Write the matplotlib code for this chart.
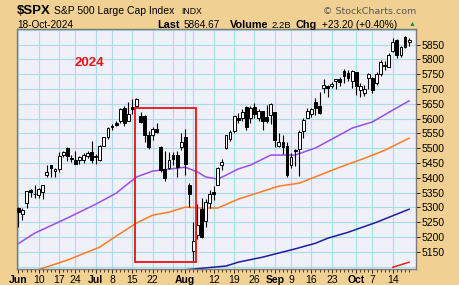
import matplotlib
matplotlib.use("Agg")
import matplotlib.pyplot as plt
from matplotlib.patches import Rectangle
import numpy as np
import pandas as pd

# trading days shown (NYSE holidays removed)
days = pd.bdate_range("2024-06-03", "2024-10-18")
days = days.drop(pd.to_datetime(["2024-06-19", "2024-07-04", "2024-09-02"]))

opens = [5297.15, 5278.24, 5314.48, 5357.80, 5343.81,
         5341.22, 5353.00, 5409.13, 5441.93, 5424.08,
         5431.11, 5476.15, 5499.99, 5466.77,
         5459.58, 5460.73, 5460.71, 5473.59, 5488.48,
         5471.08, 5461.84, 5507.44, 5537.91,
         5572.75, 5584.24, 5591.26, 5635.21, 5590.76,
         5638.16, 5644.09, 5610.07, 5608.56, 5543.37,
         5544.54, 5565.30, 5505.84, 5428.70, 5433.67,
         5476.55, 5478.73, 5505.59, 5537.84, 5376.63,
         5151.14, 5206.42, 5293.13, 5252.57, 5314.76,
         5351.88, 5376.98, 5442.72, 5501.13, 5530.50,
         5557.23, 5602.88, 5603.09, 5637.77, 5602.49,
         5639.66, 5602.89, 5624.51, 5607.30, 5612.74,
         5623.89, 5506.68, 5520.08, 5507.33,
         5442.07, 5490.51, 5496.42, 5557.48, 5603.34,
         5615.21, 5655.51, 5641.68, 5702.63, 5709.64,
         5711.90, 5727.69, 5733.65, 5762.22, 5755.36,
         5726.52, 5757.73, 5698.19, 5687.00, 5737.86,
         5737.80, 5719.14, 5751.80, 5778.36, 5775.09,
         5829.81, 5866.74, 5816.58, 5875.62, 5859.43]
highs = [5302.11, 5298.80, 5354.16, 5362.35, 5375.08,
         5365.79, 5375.95, 5441.93, 5441.93, 5432.39,
         5488.50, 5490.38, 5505.53, 5478.31,
         5490.66, 5472.88, 5483.14, 5490.81, 5523.64,
         5479.55, 5509.69, 5539.27, 5570.33,
         5583.11, 5590.75, 5635.39, 5642.45, 5655.56,
         5666.94, 5669.67, 5622.49, 5614.05, 5557.50,
         5570.36, 5585.34, 5508.04, 5491.59, 5488.32,
         5487.74, 5489.46, 5551.51, 5566.16, 5383.89,
         5250.89, 5312.34, 5330.64, 5328.03, 5358.77,
         5371.20, 5436.50, 5463.22, 5546.23, 5561.98,
         5608.30, 5620.51, 5632.68, 5643.22, 5641.82,
         5651.62, 5631.18, 5627.03, 5646.95, 5651.37,
         5623.89, 5552.99, 5546.30, 5522.47,
         5484.20, 5497.91, 5560.41, 5600.71, 5636.27,
         5636.05, 5670.81, 5689.75, 5733.57, 5715.14,
         5725.36, 5735.32, 5741.03, 5767.37, 5763.78,
         5765.14, 5757.73, 5719.14, 5714.54, 5753.15,
         5739.34, 5757.60, 5796.80, 5795.03, 5822.13,
         5871.41, 5870.36, 5846.52, 5878.08, 5872.17]
lows = [5234.32, 5257.63, 5297.64, 5335.36, 5331.33,
        5331.52, 5327.25, 5402.51, 5403.75, 5403.75,
        5420.40, 5471.32, 5455.56, 5452.03,
        5447.59, 5446.56, 5451.87, 5467.54, 5451.12,
        5446.53, 5458.43, 5507.42, 5531.63,
        5562.51, 5574.57, 5586.44, 5576.53, 5590.44,
        5614.75, 5639.02, 5584.81, 5522.81, 5497.04,
        5529.04, 5550.90, 5419.98, 5390.95, 5430.70,
        5444.44, 5401.53, 5493.75, 5410.42, 5302.03,
        5119.26, 5193.56, 5195.54, 5233.85, 5298.51,
        5324.37, 5376.98, 5425.46, 5497.89, 5525.17,
        5550.74, 5585.50, 5591.57, 5560.95, 5585.16,
        5602.34, 5593.48, 5560.95, 5583.71, 5581.79,
        5504.10, 5503.66, 5480.89, 5402.62,
        5434.49, 5441.72, 5406.96, 5535.50, 5601.65,
        5604.53, 5614.05, 5615.08, 5686.42, 5674.49,
        5704.94, 5698.99, 5712.06, 5721.01, 5727.34,
        5703.53, 5681.28, 5674.00, 5675.96, 5699.19,
        5686.85, 5714.56, 5745.02, 5764.76, 5775.09,
        5824.83, 5804.48, 5808.34, 5840.25, 5846.11]
closes = [5283.40, 5291.34, 5354.03, 5352.96, 5346.99,
          5360.79, 5375.32, 5421.03, 5433.74, 5431.60,
          5473.23, 5487.03, 5473.17, 5464.62,
          5447.87, 5469.30, 5477.90, 5482.87, 5460.48,
          5475.09, 5509.01, 5537.02, 5567.19,
          5572.85, 5576.98, 5633.91, 5584.54, 5615.35,
          5631.22, 5667.20, 5588.27, 5544.59, 5505.00,
          5564.41, 5555.74, 5427.13, 5399.22, 5459.10,
          5463.54, 5436.44, 5522.30, 5446.68, 5346.56,
          5186.33, 5240.03, 5199.50, 5319.31, 5344.16,
          5344.39, 5434.43, 5455.21, 5543.22, 5554.25,
          5608.25, 5597.12, 5620.85, 5570.64, 5634.61,
          5616.84, 5625.80, 5592.18, 5591.96, 5648.40,
          5528.93, 5520.07, 5503.41, 5408.42,
          5471.05, 5495.52, 5554.13, 5595.76, 5626.02,
          5633.09, 5634.58, 5618.26, 5713.64, 5702.55,
          5718.57, 5732.93, 5722.26, 5745.37, 5738.17,
          5762.48, 5708.75, 5709.54, 5699.94, 5751.07,
          5695.94, 5751.13, 5792.04, 5780.05, 5815.03,
          5859.85, 5815.26, 5842.47, 5841.47, 5864.67]

# moving averages (date, value)
ma50_dates = ["2024-06-03", "2024-06-07", "2024-06-20", "2024-07-01", "2024-07-09",
              "2024-07-16", "2024-07-22", "2024-08-01", "2024-08-06", "2024-08-08",
              "2024-08-13", "2024-08-15", "2024-08-20", "2024-08-23", "2024-08-30",
              "2024-09-10", "2024-09-17", "2024-09-24", "2024-09-30", "2024-10-07",
              "2024-10-14", "2024-10-18"]
ma50_vals = [5178, 5213, 5264, 5311, 5348, 5403, 5423, 5436, 5420, 5403, 5396,
             5409, 5430, 5443, 5477, 5477, 5501, 5538, 5568, 5589, 5629, 5660]
ma100_dates = ["2024-06-10", "2024-06-20", "2024-07-02", "2024-07-09", "2024-07-16",
               "2024-07-22", "2024-07-26", "2024-08-01", "2024-08-07", "2024-08-13",
               "2024-08-20", "2024-09-04", "2024-09-11", "2024-09-18", "2024-09-25",
               "2024-10-03", "2024-10-10", "2024-10-18"]
ma100_vals = [5090, 5122, 5166, 5203, 5247, 5274, 5284, 5301, 5298, 5298, 5328,
              5372, 5382, 5409, 5436, 5466, 5493, 5534]
ma200_dates = ["2024-07-31", "2024-08-15", "2024-08-20", "2024-08-28", "2024-09-10",
               "2024-09-17", "2024-09-20", "2024-09-27", "2024-10-08", "2024-10-18"]
ma200_vals = [5088, 5102, 5115, 5132, 5160, 5179, 5196, 5216, 5250, 5294]
red_dates = ["2024-10-14", "2024-10-18"]
red_vals = [5098, 5115]

# highlighted box: Jul 16 .. Aug 5
box_start, box_end = "2024-07-16", "2024-08-05"
box_low, box_high = 5114, 5635

y_ticks = list(range(5150, 5851, 50))
x_labels = [("2024-06-03", "Jun"), ("2024-06-10", "10"), ("2024-06-17", "17"),
            ("2024-06-24", "24"), ("2024-07-01", "Jul"), ("2024-07-08", "8"),
            ("2024-07-15", "15"), ("2024-07-22", "22"), ("2024-08-01", "Aug"),
            ("2024-08-12", "12"), ("2024-08-19", "19"), ("2024-08-26", "26"),
            ("2024-09-03", "Sep"), ("2024-09-09", "9"), ("2024-09-16", "16"),
            ("2024-09-23", "23"), ("2024-10-01", "Oct"), ("2024-10-07", "7"),
            ("2024-10-14", "14")]
extra_grid = ["2024-07-29", "2024-08-05"]

pos = {d.strftime("%Y-%m-%d"): i for i, d in enumerate(days)}
def ix(lst):
    return [pos[d] for d in lst]

TAN = "#F0D193"
plt.rcParams["font.family"] = ["Liberation Sans", "DejaVu Sans"]

fig = plt.figure(figsize=(4.6, 2.85), dpi=100, facecolor=TAN)
ax = fig.add_axes([17 / 460, 1 - 269 / 285, (416 - 17) / 460, (269 - 29) / 285])
ax.set_facecolor("#F0F0F8")

# grid
grid_pos = ix([d for d, _ in x_labels] + extra_grid)
for gx in grid_pos:
    ax.axvline(gx, color="#A8DCE8", lw=0.8, zorder=0)
for gy in range(5100, 5901, 50):
    ax.axhline(gy, color="#A8DCE8", lw=0.8, zorder=0)

# moving averages
ax.plot(ix(ma50_dates), ma50_vals, color="#9B4DE6", lw=1.1, zorder=2)
ax.plot(ix(ma100_dates), ma100_vals, color="#FF7A22", lw=1.1, zorder=2)
ax.plot(ix(ma200_dates), ma200_vals, color="#1C1C9C", lw=1.1, zorder=2)
ax.plot(ix(red_dates), red_vals, color="#E82020", lw=1.1, zorder=2)

# candles
x = np.arange(len(days))
o, h, l, c = map(np.array, (opens, highs, lows, closes))
ax.vlines(x, l, h, color="black", lw=0.8, zorder=3)
bottom = np.minimum(o, c)
height = np.maximum(np.abs(c - o), 2.5)
face = ["white" if cc >= oo else "black" for oo, cc in zip(o, c)]
ax.bar(x, height, bottom=bottom, width=0.7, color=face, edgecolor="black",
       linewidth=0.7, zorder=4)

# red box
b0, b1 = pos[box_start] - 0.3, pos[box_end] + 0.7
ax.add_patch(Rectangle((b0, box_low), b1 - b0, box_high - box_low, fill=False,
                       edgecolor="#EE1111", lw=1.3, zorder=5))

ax.text(17.3, 5788, "2024", color="#EE1111", fontsize=9.5,
        fontweight="bold", ha="center", va="center")

ax.set_xlim(-0.35, 97.7)
ax.set_ylim(5092, 5903)

ax.yaxis.tick_right()
ax.set_yticks(y_ticks)
ax.set_yticklabels([str(v) for v in y_ticks], fontsize=7.5)
ax.tick_params(axis="y", length=3, width=0.6, pad=1)

ax.set_xticks(ix([d for d, _ in x_labels]))
ax.set_xticklabels([t for _, t in x_labels], fontsize=7.5)
for lab in ax.get_xticklabels():
    if not lab.get_text().isdigit():
        lab.set_fontweight("bold")
ax.set_xticks(x, minor=True)
ax.tick_params(axis="x", which="major", length=3, width=0.6, pad=1.5)
ax.tick_params(axis="x", which="minor", length=2, width=0.5)

for sp in ax.spines.values():
    sp.set_color("#7A7A7A")
    sp.set_linewidth(1.0)

# header
def px(xp, yp):
    return xp / 460, 1 - yp / 285

fig.text(*px(17, 14.5), "$SPX", fontsize=9.5, fontweight="bold", va="baseline")
fig.text(*px(54, 14.5), "S&P 500 Large Cap Index", fontsize=7.5, va="baseline")
fig.text(*px(181, 14.5), "INDX", fontsize=6.2, va="baseline")
fig.text(*px(17, 27.5), "18-Oct-2024", fontsize=7.2, va="baseline")
fig.text(*px(157, 27.5), "Last", fontsize=7.8, fontweight="bold", va="baseline")
fig.text(*px(184, 27.5), "5864.67", fontsize=7.2, va="baseline")
fig.text(*px(230, 27.5), "Volume", fontsize=7.8, fontweight="bold", va="baseline")
fig.text(*px(271, 27.5), "2.2B", fontsize=6.8, va="baseline")
fig.text(*px(296, 27.5), "Chg", fontsize=7.8, fontweight="bold", va="baseline")
fig.text(*px(322, 27.5), "+23.20 (+0.40%)", fontsize=7.2, va="baseline")
fig.text(*px(412, 24), "\u25B2", fontsize=5, color="#1E8C3A", ha="center", va="center")
fig.text(*px(416, 13.5), "\u00A9 StockCharts.com", fontsize=6.8, color="#555555",
         ha="right", va="baseline", family="DejaVu Sans")

fig.savefig("out.png", dpi=100, facecolor=TAN)
